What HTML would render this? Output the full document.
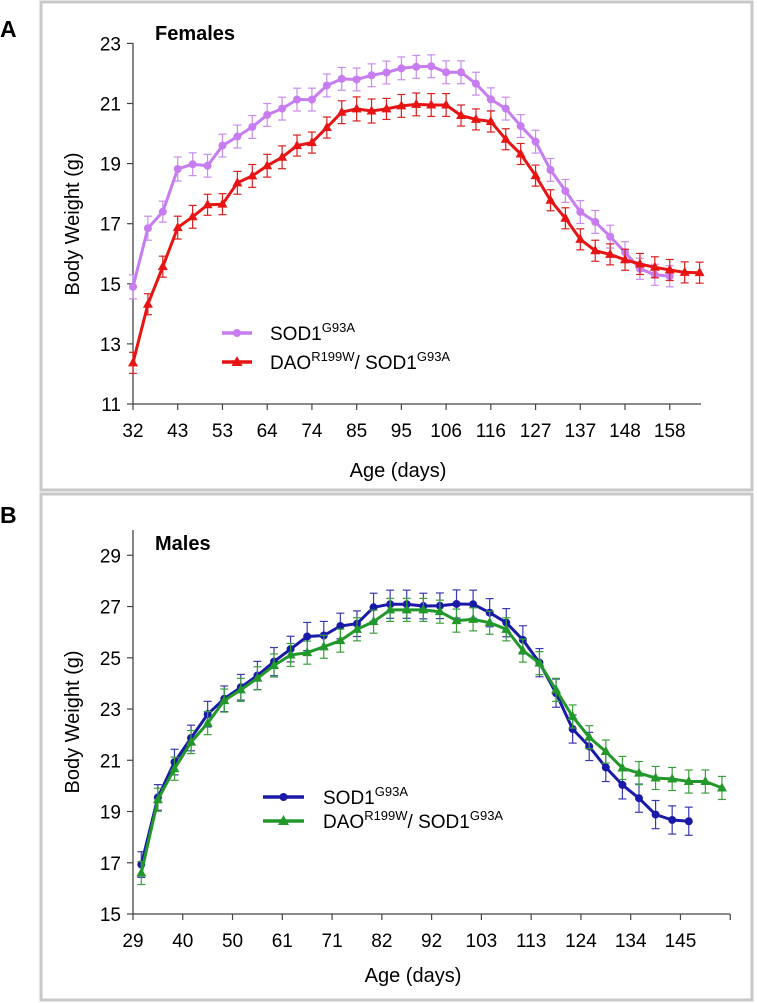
<!DOCTYPE html>
<html><head><meta charset="utf-8">
<style>
html,body{margin:0;padding:0;background:#fff;}
svg{display:block;font-family:"Liberation Sans",Arial,sans-serif;}
</style></head>
<body>
<svg id="fig" width="757" height="1003" viewBox="0 0 757 1003" xmlns="http://www.w3.org/2000/svg">
  <rect x="41" y="2" width="711" height="488" fill="none" stroke="#c8c8c8" stroke-width="3"/>
  <rect x="41" y="494" width="711" height="506" fill="none" stroke="#c8c8c8" stroke-width="3"/>
  <text x="0" y="37" font-size="23" font-weight="bold">A</text>
  <text x="0" y="523" font-size="23" font-weight="bold">B</text>
  <text x="155" y="40" font-size="20" font-weight="bold">Females</text>
  <text x="155" y="550" font-size="20" font-weight="bold">Males</text>
  <text transform="translate(79,224) rotate(-90)" text-anchor="middle" font-size="20">Body Weight (g)</text>
  <text transform="translate(79,722) rotate(-90)" text-anchor="middle" font-size="20">Body Weight (g)</text>
  <text x="398" y="477" text-anchor="middle" font-size="20">Age (days)</text>
  <text x="413" y="982" text-anchor="middle" font-size="20">Age (days)</text>
  <g id="ga"></g>
  <g id="gb"></g>
</svg>
<script>
// Panel A (females)
const femaleTickLabels = ["32","43","53","64","74","85","95","106","116","127","137","148","158"];
const femaleYTicks = [11,13,15,17,19,21,23];
const femaleSod1 = [14.9,16.85,17.4,18.82,18.98,18.93,19.6,19.9,20.22,20.62,20.83,21.13,21.13,21.6,21.82,21.8,21.94,22.03,22.17,22.22,22.24,22.04,22.04,21.66,21.14,20.83,20.25,19.73,18.79,18.09,17.39,17.06,16.57,16.05,15.5,15.3,15.25];
const femaleSod1Err = [0.4,0.4,0.35,0.4,0.38,0.38,0.38,0.38,0.38,0.38,0.38,0.38,0.38,0.38,0.38,0.38,0.38,0.38,0.38,0.38,0.38,0.38,0.38,0.38,0.38,0.38,0.38,0.38,0.38,0.38,0.38,0.38,0.38,0.35,0.35,0.35,0.35];
const femaleDao = [12.37,14.32,15.57,16.87,17.23,17.63,17.65,18.36,18.59,18.93,19.21,19.6,19.7,20.2,20.71,20.82,20.75,20.82,20.92,20.97,20.95,20.95,20.6,20.47,20.4,19.81,19.32,18.6,17.78,17.18,16.48,16.1,15.98,15.8,15.66,15.55,15.46,15.38,15.37];
const femaleDaoErr = [0.35,0.35,0.35,0.38,0.38,0.35,0.35,0.38,0.38,0.38,0.38,0.35,0.35,0.35,0.38,0.4,0.4,0.35,0.38,0.38,0.38,0.38,0.35,0.35,0.35,0.35,0.35,0.35,0.35,0.35,0.35,0.35,0.35,0.35,0.35,0.35,0.35,0.35,0.35];
// Panel B (males)
const maleTickLabels = ["29","40","50","61","71","82","92","103","113","124","134","145",""];
const maleYTicks = [15,17,19,21,23,25,27,29];
const maleSod1 = [16.93,19.55,20.93,21.87,22.8,23.4,23.85,24.31,24.85,25.34,25.83,25.87,26.24,26.33,26.97,27.09,27.09,27.02,27.03,27.1,27.09,26.76,26.37,25.7,24.81,23.62,22.22,21.54,20.72,20.04,19.52,18.88,18.67,18.62];
const maleSod1Err = [0.5,0.5,0.5,0.5,0.5,0.5,0.5,0.55,0.55,0.5,0.55,0.55,0.5,0.5,0.55,0.55,0.55,0.5,0.5,0.55,0.55,0.55,0.55,0.55,0.55,0.55,0.55,0.55,0.55,0.55,0.55,0.55,0.55,0.55];
const maleDao = [16.6,19.46,20.67,21.71,22.45,23.33,23.75,24.2,24.7,25.11,25.2,25.43,25.67,26.11,26.41,26.87,26.87,26.87,26.8,26.45,26.5,26.37,26.11,25.28,24.79,23.75,22.71,21.9,21.34,20.7,20.5,20.31,20.27,20.17,20.17,19.92];
const maleDaoErr = [0.45,0.45,0.45,0.45,0.45,0.45,0.45,0.45,0.45,0.45,0.45,0.45,0.45,0.45,0.45,0.45,0.45,0.45,0.45,0.45,0.45,0.45,0.45,0.45,0.45,0.45,0.45,0.45,0.45,0.45,0.45,0.45,0.45,0.45,0.45,0.45];

const NS = "http://www.w3.org/2000/svg";
function mk(parent, tag, attrs) {
  const e = document.createElementNS(NS, tag);
  for (const k in attrs) e.setAttribute(k, attrs[k]);
  parent.appendChild(e);
  return e;
}

function drawPanel(g, cfg) {
  const yS = v => cfg.y0 - (v - cfg.yMin) / (cfg.yMax - cfg.yMin) * (cfg.y0 - cfg.yTopTick);
  const xS = i => cfg.x0 + (i + cfg.offset) * cfg.step;
  // axes
  const ya = mk(g, "line", {x1: cfg.x0, y1: cfg.yAxisTop, x2: cfg.x0, y2: cfg.y0, stroke: "#444", "stroke-width": 1.3});
  
  
  const xa = mk(g, "line", {x1: cfg.x0, y1: cfg.y0, x2: cfg.xEnd, y2: cfg.y0, stroke: "#444", "stroke-width": 1.3});
  
  
  cfg.yTicks.forEach(v => {
    const y = yS(v);
    mk(g, "line", {x1: cfg.x0 - 6, y1: y, x2: cfg.x0, y2: y, stroke: "#444", "stroke-width": 1.2});
    const t = mk(g, "text", {x: cfg.x0 - 12, y: y + 7, "text-anchor": "end", "font-size": 19});
    t.textContent = v;
    
    
  });
  cfg.xLabels.forEach((lab, k) => {
    const x = cfg.x0 + k * 3 * cfg.step;
    mk(g, "line", {x1: x, y1: cfg.y0, x2: x, y2: cfg.y0 + 6, stroke: "#444", "stroke-width": 1.2});
    if (lab) {
      const t = mk(g, "text", {x: x, y: cfg.xLabelY, "text-anchor": "middle", "font-size": 19});
      t.textContent = lab;
      
      
    }
  });
  cfg.series.forEach(s => {
    const sg = mk(g, "g", {});
    
    
    s.vals.forEach((v, i) => {
      const x = xS(i), e = s.err[i];
      const y1 = yS(v + e), y2 = yS(v - e);
      mk(sg, "line", {x1: x, y1: y1, x2: x, y2: y2, stroke: s.errColor, "stroke-width": 1.2});
      mk(sg, "line", {x1: x - 4, y1: y1, x2: x + 4, y2: y1, stroke: s.errColor, "stroke-width": 1.2});
      mk(sg, "line", {x1: x - 4, y1: y2, x2: x + 4, y2: y2, stroke: s.errColor, "stroke-width": 1.2});
    });
    const pts = s.vals.map((v, i) => xS(i).toFixed(1) + "," + yS(v).toFixed(1)).join(" ");
    const pl = mk(sg, "polyline", {points: pts, fill: "none", stroke: s.color, "stroke-width": 3, "stroke-linejoin": "round"});
    
    
    s.vals.forEach((v, i) => {
      const x = xS(i), y = yS(v);
      let m;
      if (s.marker === "circle") m = mk(sg, "circle", {cx: x, cy: y, r: 4, fill: s.color});
      else m = mk(sg, "polygon", {points: `${x},${y - 5.5} ${x - 5},${y + 3.5} ${x + 5},${y + 3.5}`, fill: s.color});
      
      
    });
  });
  // legend
  cfg.series.forEach((s, k) => {
    const ly = cfg.legY[k];
    const lg = mk(g, "g", {});
    
    
    mk(lg, "line", {x1: cfg.legX1, y1: ly, x2: cfg.legX2, y2: ly, stroke: s.color, "stroke-width": 3.5});
    const mx = (cfg.legX1 + cfg.legX2) / 2;
    if (s.marker === "circle") mk(lg, "circle", {cx: mx, cy: ly, r: 4, fill: s.color});
    else mk(lg, "polygon", {points: `${mx},${ly - 6} ${mx - 5.5},${ly + 4} ${mx + 5.5},${ly + 4}`, fill: s.color});
    const t = mk(lg, "text", {x: cfg.legTextX, y: ly + 7, "font-size": 19});
    t.innerHTML = s.label;
  });
}

drawPanel(document.getElementById("ga"), {
  id: "panel-a", x0: 133, step: 14.91, offset: 0, xEnd: 701, y0: 404, yAxisTop: 43, yTopTick: 43.4,
  yMin: 11, yMax: 23, yTicks: femaleYTicks, xLabels: femaleTickLabels, xLabelY: 437,
  legX1: 222, legX2: 252, legTextX: 270, legY: [333, 362],
  series: [
    {name: "sod1-female", vals: femaleSod1, err: femaleSod1Err, color: "#c77cf0", errColor: "#c88cee", marker: "circle",
     label: 'SOD1<tspan font-size="13" dy="-8">G93A</tspan>'},
    {name: "dao-sod1-female", vals: femaleDao, err: femaleDaoErr, color: "#e81414", errColor: "#d82020", marker: "tri",
     label: 'DAO<tspan font-size="13" dy="-8">R199W</tspan><tspan dy="8">/ SOD1</tspan><tspan font-size="13" dy="-8">G93A</tspan>'}
  ]
});

drawPanel(document.getElementById("gb"), {
  id: "panel-b", x0: 133, step: 16.59, offset: 0.5, xEnd: 730, y0: 914, yAxisTop: 530, yTopTick: 555.3,
  yMin: 15, yMax: 29, yTicks: maleYTicks, xLabels: maleTickLabels, xLabelY: 947,
  legX1: 263, legX2: 304, legTextX: 323, legY: [797, 821],
  series: [
    {name: "sod1-male", vals: maleSod1, err: maleSod1Err, color: "#1a1aa8", errColor: "#3a3ab0", marker: "circle",
     label: 'SOD1<tspan font-size="13" dy="-8">G93A</tspan>'},
    {name: "dao-sod1-male", vals: maleDao, err: maleDaoErr, color: "#22982a", errColor: "#3aa03a", marker: "tri",
     label: 'DAO<tspan font-size="13" dy="-8">R199W</tspan><tspan dy="8">/ SOD1</tspan><tspan font-size="13" dy="-8">G93A</tspan>'}
  ]
});
</script>
</body></html>
